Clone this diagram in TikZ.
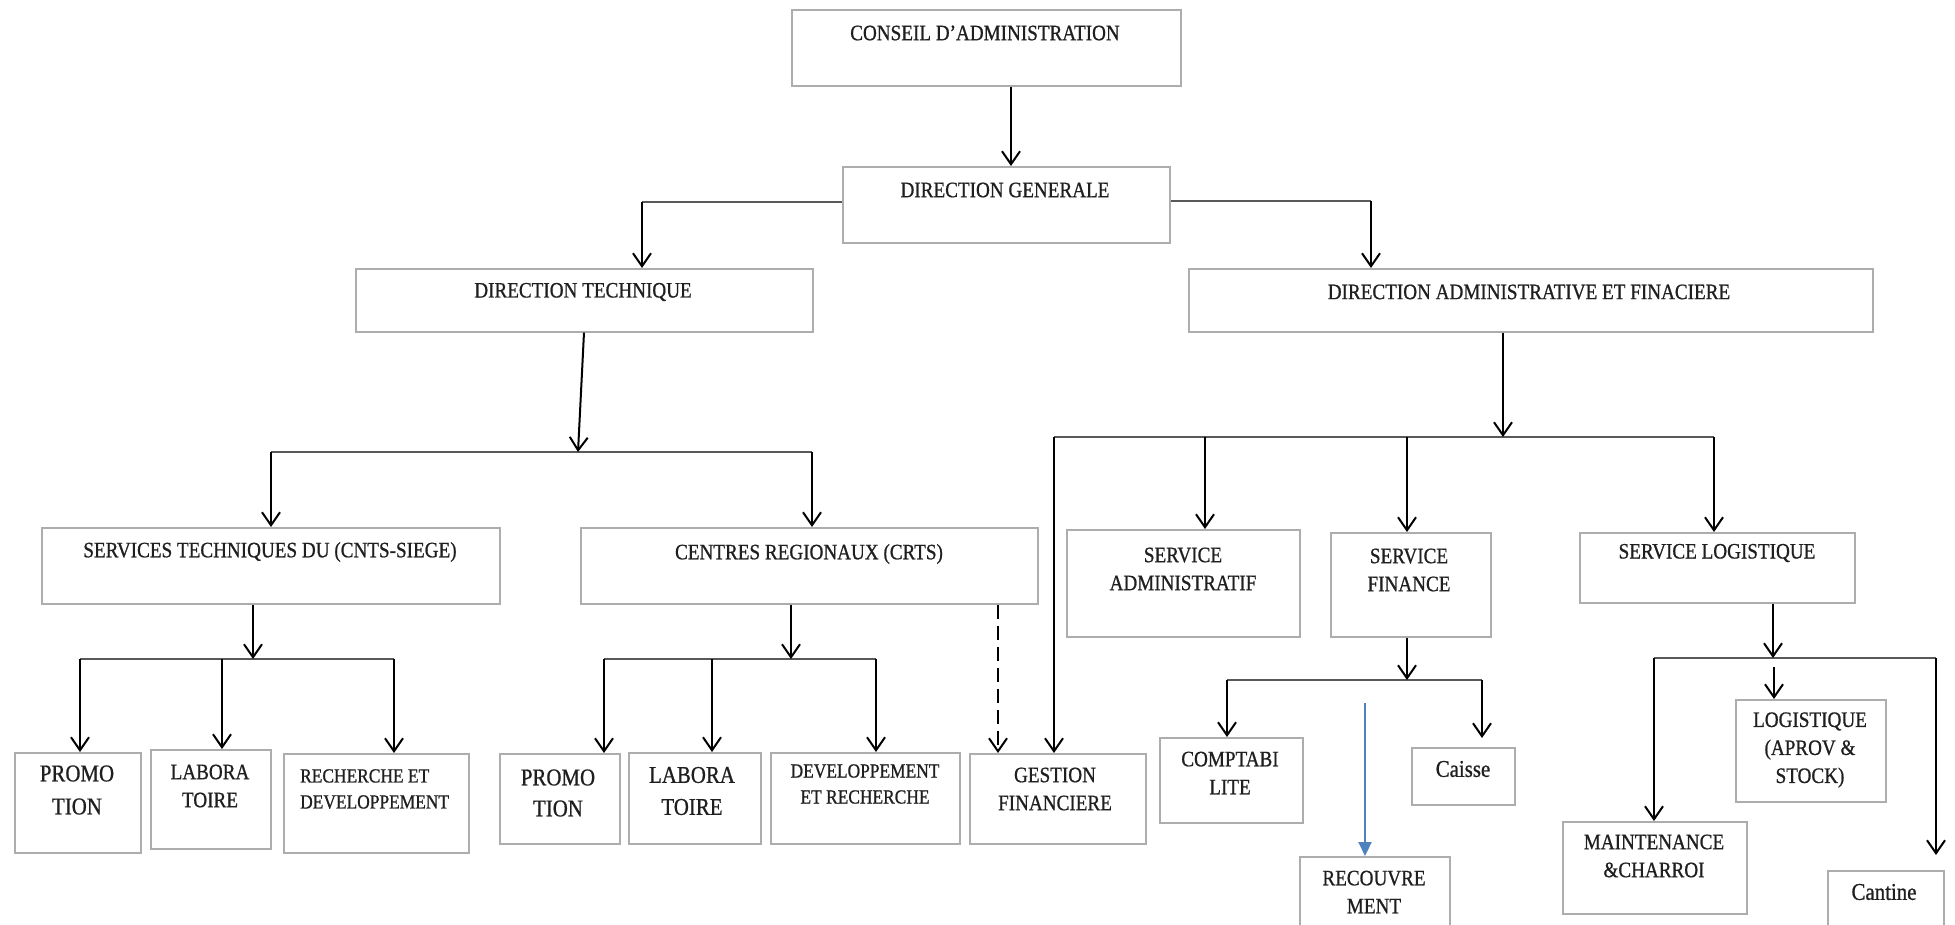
\documentclass[tikz,border=0pt]{standalone}
\usepackage{fontspec}
\setmainfont{Liberation Serif}[FakeStretch=0.87,FakeBold=0.8]
\usetikzlibrary{arrows.meta}
\definecolor{arrowblue}{HTML}{4F81BD}
\begin{document}
\begin{tikzpicture}[x=1pt,y=-1pt,
  obox/.style={draw=black!32, line width=1.6pt, inner sep=0pt, anchor=north west, fill=white},
  txt/.style={inner sep=0pt, align=center, text=black!88, font=\fontsize{22}{28}\selectfont},
  big/.style={font=\fontsize{24}{32}\selectfont},
  small/.style={font=\fontsize{20}{26}\selectfont},
  conn/.style={line width=2pt, draw=black, -{Straight Barb[length=13pt,width=18pt,line width=2pt]}},
  dashconn/.style={conn, dash pattern=on 14pt off 7pt},
  blueconn/.style={line width=2.2pt, draw=arrowblue, -{Triangle[length=14pt,width=13pt,fill=arrowblue]}},
  bus/.style={line width=2.8pt, draw=black!65},
]
\useasboundingbox (0,0) rectangle (1955,925);
\fill[white] (0,0) rectangle (1955,925);

% ---------- boxes ----------
\node[obox, minimum width=389pt, minimum height=76pt] (ca) at (791,9) {};
\node[obox, minimum width=327pt, minimum height=76pt] (dg) at (842,166) {};
\node[obox, minimum width=457pt, minimum height=63pt] (dt) at (355,268) {};
\node[obox, minimum width=684pt, minimum height=63pt] (daf) at (1188,268) {};
\node[obox, minimum width=458pt, minimum height=76pt] (sts) at (41,527) {};
\node[obox, minimum width=457pt, minimum height=76pt] (crts) at (580,527) {};
\node[obox, minimum width=126pt, minimum height=100pt] (p1) at (14,752) {};
\node[obox, minimum width=120pt, minimum height=99pt] (l1) at (150,749) {};
\node[obox, minimum width=185pt, minimum height=99pt] (r1) at (283,753) {};
\node[obox, minimum width=120pt, minimum height=90pt] (p2) at (499,753) {};
\node[obox, minimum width=132pt, minimum height=91pt] (l2) at (628,752) {};
\node[obox, minimum width=189pt, minimum height=91pt] (d2) at (770,752) {};
\node[obox, minimum width=176pt, minimum height=90pt] (gf) at (969,753) {};
\node[obox, minimum width=233pt, minimum height=107pt] (sa) at (1066,529) {};
\node[obox, minimum width=160pt, minimum height=104pt] (sf) at (1330,532) {};
\node[obox, minimum width=275pt, minimum height=70pt] (sl) at (1579,532) {};
\node[obox, minimum width=143pt, minimum height=85pt] (co) at (1159,737) {};
\node[obox, minimum width=103pt, minimum height=57pt] (cs) at (1411,747) {};
\node[obox, minimum width=150pt, minimum height=90pt] (rec) at (1299,856) {};
\node[obox, minimum width=150pt, minimum height=102pt] (lg) at (1735,699) {};
\node[obox, minimum width=184pt, minimum height=92pt] (mt) at (1562,821) {};
\node[obox, minimum width=116pt, minimum height=80pt] (cn) at (1827,870) {};

% ---------- texts ----------
\node[txt] (ca-t) at (985,33) {CONSEIL D’ADMINISTRATION};
\node[txt] (dg-t) at (1005,190) {DIRECTION GENERALE};
\node[txt] (dt-t) at (583,292) {DIRECTION TECHNIQUE};
\node[txt] (daf-t) at (1529,292) {DIRECTION ADMINISTRATIVE ET FINACIERE};
\node[txt] (sts-t) at (270,552) {SERVICES TECHNIQUES DU (CNTS-SIEGE)};
\node[txt] (crts-t) at (809,554) {CENTRES REGIONAUX (CRTS)};
\node[txt, font=\fontsize{24}{33}\selectfont] (p1-t) at (77,790) {PROMO\\TION};
\node[txt] (l1-t) at (210,786) {LABORA\\TOIRE};
\node[txt, small, anchor=west, align=left] (r1-t) at (300,789) {RECHERCHE ET\\DEVELOPPEMENT};
\node[txt, font=\fontsize{24}{31}\selectfont] (p2-t) at (558,793) {PROMO\\TION};
\node[txt, big] (l2-t) at (692,791) {LABORA\\TOIRE};
\node[txt, small] (d2-t) at (865,784) {DEVELOPPEMENT\\ET RECHERCHE};
\node[txt] (gf-t) at (1055,789) {GESTION\\FINANCIERE};
\node[txt] (sa-t) at (1183,569) {SERVICE\\ADMINISTRATIF};
\node[txt] (sf-t) at (1409,570) {SERVICE\\FINANCE};
\node[txt] (sl-t) at (1717,553) {SERVICE LOGISTIQUE};
\node[txt, font=\fontsize{22}{28}\selectfont] (co-t) at (1230,773) {COMPTABI\\LITE};
\node[txt, font=\fontsize{24}{28}\selectfont] (cs-t) at (1463,769) {Caisse};
\node[txt] (rec-t) at (1374,892) {RECOUVRE\\MENT};
\node[txt] (lg-t) at (1810,750) {LOGISTIQUE\\(APROV \&\\STOCK)};
\node[txt] (mt-t) at (1654,856) {MAINTENANCE\\\&CHARROI};
\node[txt, font=\fontsize{24}{28}\selectfont] (cn-t) at (1884,892) {Cantine};

% ---------- connectors ----------
% conseil -> direction generale
\coordinate (g1) at (1011,0);
\draw[conn] (ca.south -| g1) -- (dg.north -| g1);
% direction generale -> DT / DAF
\coordinate (g2) at (642,202);
\draw[bus] (dg.west |- g2) -- (g2);
\draw[conn] (g2) -- (g2 |- dt.north);
\coordinate (g3) at (1371,201);
\draw[bus] (dg.east |- g3) -- (g3);
\draw[conn] (g3) -- (g3 |- daf.north);
% DT -> bus 1
\coordinate (g4) at (584,0);
\coordinate (j1) at (578,452);
\coordinate (j1a) at (271,452);
\coordinate (j1b) at (812,452);
\draw[bus] (j1a) -- (j1b);
\draw[conn] (dt.south -| g4) -- (j1);
\draw[conn] (j1a) -- (j1a |- sts.north);
\draw[conn] (j1b) -- (j1b |- crts.north);
% STS -> bus 2
\coordinate (j2) at (253,659);
\coordinate (j2a) at (80,659);
\coordinate (j2b) at (222,659);
\coordinate (j2c) at (394,659);
\draw[bus] (j2a) -- (j2c);
\draw[conn] (sts.south -| j2) -- (j2);
\draw[conn] (j2a) -- (j2a |- p1.north);
\draw[conn] (j2b) -- (j2b |- l1.north);
\draw[conn] (j2c) -- (j2c |- r1.north);
% CRTS -> bus 3
\coordinate (j3) at (791,659);
\coordinate (j3a) at (604,659);
\coordinate (j3b) at (712,659);
\coordinate (j3c) at (876,659);
\draw[bus] (j3a) -- (j3c);
\draw[conn] (crts.south -| j3) -- (j3);
\draw[conn] (j3a) -- (j3a |- p2.north);
\draw[conn] (j3b) -- (j3b |- l2.north);
\draw[conn] (j3c) -- (j3c |- d2.north);
% CRTS - - > gestion financiere
\coordinate (g5) at (998,0);
\draw[dashconn] (crts.south -| g5) -- (gf.north -| g5);
% DAF -> bus 4
\coordinate (j4) at (1503,437);
\coordinate (j4a) at (1054,437);
\coordinate (j4b) at (1205,437);
\coordinate (j4c) at (1407,437);
\coordinate (j4d) at (1714,437);
\draw[bus] (j4a) -- (j4d);
\draw[conn] (daf.south -| j4) -- (j4);
\draw[conn] (j4a) -- (j4a |- gf.north);
\draw[conn] (j4b) -- (j4b |- sa.north);
\draw[conn] (j4c) -- (j4c |- sf.north);
\draw[conn] (j4d) -- (j4d |- sl.north);
% service finance -> bus 5
\coordinate (j5) at (1407,680);
\coordinate (j5a) at (1227,680);
\coordinate (j5b) at (1482,680);
\draw[bus] (j5a) -- (j5b);
\draw[conn] (sf.south -| j5) -- (j5);
\draw[conn] (j5a) -- (j5a |- co.north);
\draw[conn, shorten >=9pt] (j5b) -- (j5b |- cs.north);
% blue arrow -> recouvrement
\coordinate (b0) at (1365,703);
\draw[blueconn] (b0) -- (b0 |- rec.north);
% service logistique -> bus 6
\coordinate (j6) at (1773,658);
\coordinate (j6a) at (1654,658);
\coordinate (j6b) at (1936,658);
\coordinate (j6m) at (1774,667);
\draw[bus] (j6a) -- (j6b);
\draw[conn] (sl.south -| j6) -- (j6);
\draw[conn] (j6a) -- (j6a |- mt.north);
\draw[conn] (j6m) -- (j6m |- lg.north);
\draw[conn, shorten >=15pt] (j6b) -- (j6b |- cn.north);
\end{tikzpicture}
\end{document}
